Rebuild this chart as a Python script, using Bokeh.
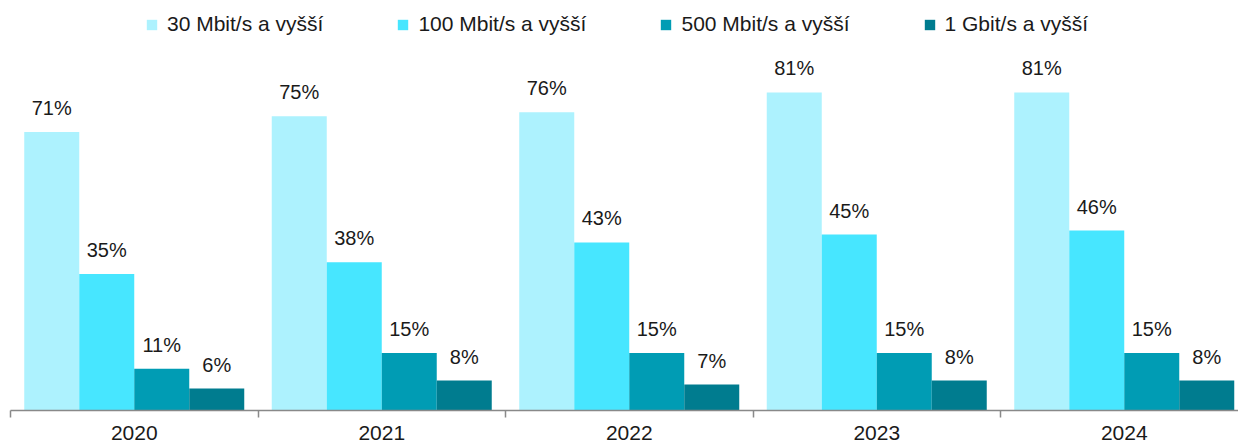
from bokeh.plotting import figure
from bokeh.models import (Range1d, FixedTicker, ColumnDataSource,
                          Legend, LegendItem)
from bokeh.core.properties import value
from bokeh.embed import file_html
from bokeh.resources import INLINE

# ---- data ----
years = ["2020", "2021", "2022", "2023", "2024"]
series_names = ["30 Mbit/s a vyšší", "100 Mbit/s a vyšší",
                "500 Mbit/s a vyšší", "1 Gbit/s a vyšší"]
s30 = [71, 75, 76, 81, 81]
s100 = [35, 38, 43, 45, 46]
s500 = [11, 15, 15, 15, 15]
s1g = [6, 8, 7, 8, 8]

# ---- style ----
colors = ["#adf2fe", "#47e6ff", "#009cb4", "#007c8f"]
FONT = "Liberation Sans"
TXT = "#1a1a1a"
AXIS = "#898989"
offsets = [-1/3, -1/9, 1/9, 1/3]
bar_w = 2/9

p = figure(width=1238, height=445, output_backend="svg", toolbar_location=None,
           x_range=Range1d(0, 1228/247.5), y_range=Range1d(0.43, 104.3),
           y_axis_location=None,
           min_border_left=10, min_border_right=0, min_border_top=0,
           min_border_bottom=35)
p.outline_line_color = None
p.xgrid.visible = False
p.ygrid.visible = False
p.background_fill_color = "white"
p.border_fill_color = "white"

ax = p.xaxis[0]
ax.ticker = FixedTicker(ticks=[j + 0.5 for j in range(len(years))],
                        minor_ticks=list(range(len(years) + 1)))
ax.major_label_overrides = {j + 0.5: y for j, y in enumerate(years)}
ax.major_tick_out = 0
ax.major_tick_in = 0
ax.minor_tick_out = 7
ax.minor_tick_in = 0
ax.minor_tick_line_color = AXIS
ax.minor_tick_line_width = 1.5
ax.axis_line_color = AXIS
ax.axis_line_width = 1.5
ax.major_label_standoff = 8
ax.major_label_text_font = FONT
ax.major_label_text_font_size = "21px"
ax.major_label_text_color = TXT

all_series = [s30, s100, s500, s1g]
items = []
for i, (name, vals) in enumerate(zip(series_names, all_series)):
    xs = [j + 0.5 + offsets[i] for j in range(len(years))]
    src = ColumnDataSource(dict(x=xs, top=vals, lab=[f"{v}%" for v in vals]))
    r = p.vbar(x="x", top="top", bottom=0, width=bar_w, source=src,
               fill_color=colors[i], line_color=None)
    p.text(x="x", y="top", text="lab", source=src, text_align="center",
           text_baseline="alphabetic", y_offset=-24,
           text_font=value(FONT), text_font_size="20px", text_color=TXT)
    items.append(LegendItem(label=name, renderers=[r]))

legend = Legend(items=items, orientation="horizontal", location=(135, 374),
                glyph_width=13, glyph_height=13, label_standoff=9, spacing=73,
                padding=0, margin=0, border_line_color=None,
                background_fill_alpha=0, label_text_font=FONT,
                label_text_font_size="21px", label_text_color=TXT)
p.add_layout(legend)

open("out.html", "w").write(file_html(p, INLINE))
